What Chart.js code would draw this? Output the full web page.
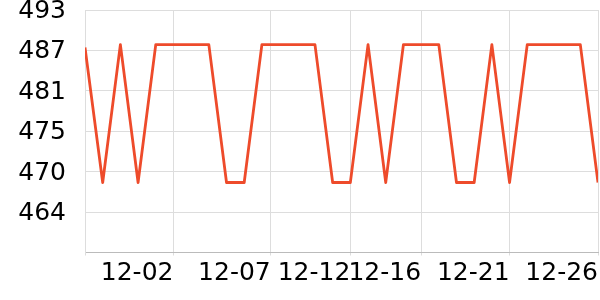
<!DOCTYPE html>
<html>
<head>
<meta charset="utf-8">
<script src="https://cdn.jsdelivr.net/npm/chart.js@4/dist/chart.umd.min.js"></script>
<style>
  html, body { margin: 0; padding: 0; background: #fff; }
  #wrap { width: 600px; height: 300px; }
</style>
</head>
<body>
<div id="wrap"><canvas id="grafico"></canvas></div>
<script>
// days 11-27 .. 12-26
const dias = [
  "11-27","11-28","11-29","11-30","12-01","12-02","12-03","12-04","12-05","12-06",
  "12-07","12-08","12-09","12-10","12-11","12-12","12-13","12-14","12-15","12-16",
  "12-17","12-18","12-19","12-20","12-21","12-22","12-23","12-24","12-25","12-26"
];
const valores = [
  487.6, 468.1, 488, 468.1, 488, 488, 488, 488, 468.1, 468.1,
  488, 488, 488, 488, 468.1, 468.1, 488, 468.1, 488, 488,
  488, 468.1, 468.1, 488, 468.1, 488, 488, 488, 488, 468.1
];

// x ticks (position in day index) and their labels
const xTicksPos = [0, 5, 10.5, 15, 19, 24, 29];
const xTicksTxt = ["", "12-02", "12-07", "12-12", "12-16", "12-21", "12-26"];

// y axis
const yMin = 458;
const yMax = 493;
const yTicksTxt = ["", "464", "470", "475", "481", "487", "493"];

const fuente = { family: "DejaVu Sans", size: 25 };

new Chart(document.getElementById("grafico"), {
  type: "line",
  data: {
    datasets: [{
      label: "valor",
      data: valores.map((v, i) => ({ x: i, y: v })),
      borderColor: "#ee4b2b",
      borderWidth: 2.8,
      borderJoinStyle: "round",
      pointRadius: 0,
      tension: 0,
      clip: 0
    }]
  },
  options: {
    responsive: true,
    maintainAspectRatio: false,
    animation: false,
    layout: { padding: { top: 10, right: 2 } },
    plugins: { legend: { display: false }, tooltip: { enabled: false } },
    scales: {
      x: {
        type: "linear",
        min: 0,
        max: dias.length - 1,
        afterBuildTicks: s => { s.ticks = xTicksPos.map(v => ({ value: v })); },
        afterFit: s => { s.height = 47.5; s.paddingLeft = 0; s.paddingRight = 0; },
        ticks: {
          font: fuente,
          color: "#000",
          align: "end",
          maxRotation: 0,
          autoSkip: false,
          padding: 3,
          callback: (v, i) => xTicksTxt[i]
        },
        grid: { color: "#dddddd", tickLength: 3 },
        border: { color: "#bbbbbb" }
      },
      y: {
        min: yMin,
        max: yMax,
        afterBuildTicks: s => {
          const paso = (yMax - yMin) / (yTicksTxt.length - 1);
          s.ticks = yTicksTxt.map((t, i) => ({ value: yMin + i * paso }));
        },
        afterFit: s => { s.width = 85; s.paddingTop = 0; s.paddingBottom = 0; },
        ticks: {
          font: fuente,
          color: "#000",
          padding: 19,
          labelOffset: 1.5,
          callback: (v, i) => yTicksTxt[i]
        },
        grid: { color: "#dddddd", drawTicks: false },
        border: { color: "#dddddd" }
      }
    }
  }
});
</script>
</body>
</html>
